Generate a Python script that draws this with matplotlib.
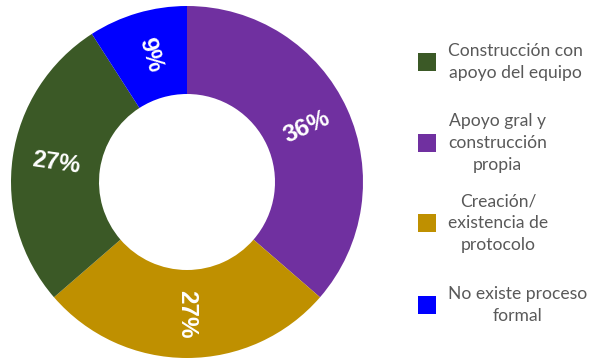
import matplotlib.pyplot as plt
import numpy as np

categories = ["Apoyo gral y\nconstrucción\npropia",
              "Creación/\nexistencia de\nprotocolo",
              "Construcción con\napoyo del equipo",
              "No existe proceso\nformal"]
counts = [4, 3, 3, 1]
colors = ["#7030A0", "#BF9000", "#3B5926", "#0000FF"]

# legend order differs from the slice order
legend_order = [2, 0, 1, 3]

W, H = 590, 360
fig = plt.figure(figsize=(W / 100, H / 100), dpi=100)

cx, cy, r = 187, 182, 176
ax = fig.add_axes([(cx - r) / W, (H - cy - r) / H, 2 * r / W, 2 * r / H])

wedges, _ = ax.pie(counts, colors=colors, startangle=90, counterclock=False,
                   wedgeprops=dict(width=0.5, linewidth=0))
ax.set_xlim(-1, 1)
ax.set_ylim(-1, 1)
ax.set_aspect("equal")
ax.axis("off")

total = sum(counts)
for w, c in zip(wedges, counts):
    mid = (w.theta1 + w.theta2) / 2
    ang = (mid + 180) % 360 - 180
    rot = ang if -90 <= ang <= 90 else ang - 180
    x = 0.75 * np.cos(np.radians(mid))
    y = 0.75 * np.sin(np.radians(mid))
    ax.text(x, y, "%d%%" % round(100 * c / total), color="white",
            fontsize=17.5, fontweight="bold", family="Liberation Sans",
            ha="center", va="center", rotation=rot, rotation_mode="anchor")

# legend drawn by hand so the multi-line labels sit centred
legend_y = [62, 143, 223, 305]
sq = 18
for i, yc in zip(legend_order, legend_y):
    fig.patches.append(plt.Rectangle(((427 - sq / 2) / W, (H - yc - sq / 2) / H),
                                     sq / W, sq / H, transform=fig.transFigure,
                                     facecolor=colors[i], edgecolor="none"))
    fig.text(448 / W, (H - yc) / H, categories[i], ha="left", va="center",
             multialignment="center", color="#595959", fontsize=12.6,
             family="Lato", linespacing=1.45)

fig.savefig("out.png", dpi=100)
